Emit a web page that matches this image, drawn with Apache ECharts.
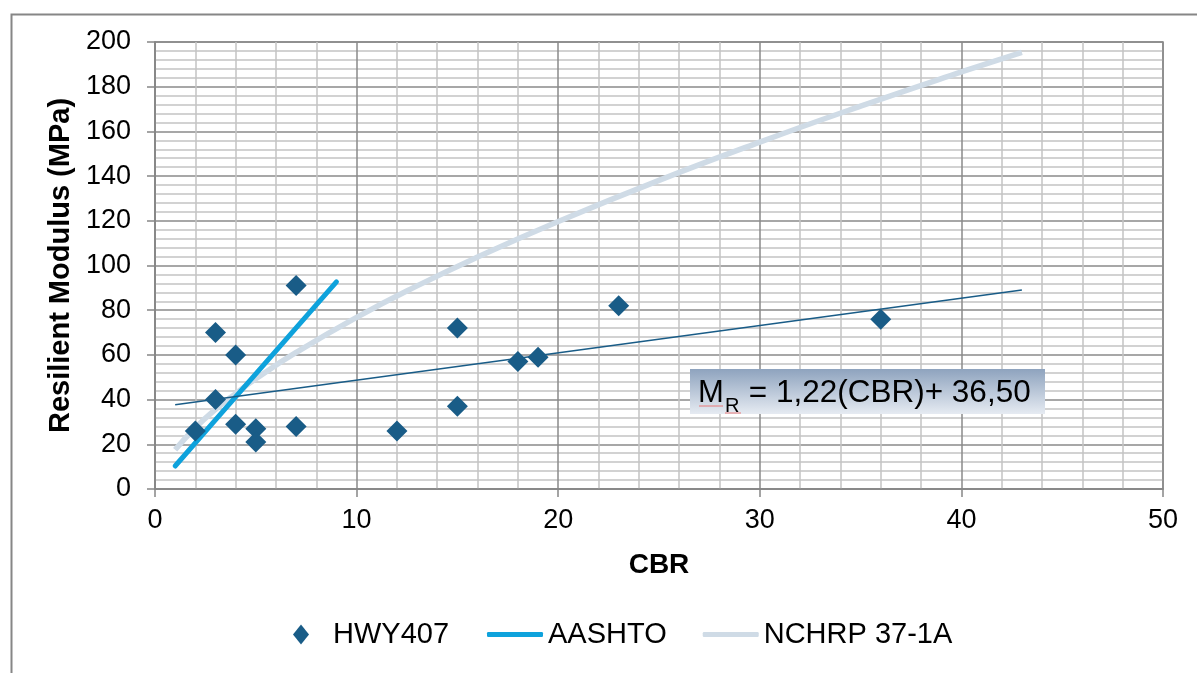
<!DOCTYPE html>
<html>
<head>
    <meta charset="utf-8"/>
    <title>Resilient Modulus vs CBR</title>
    <script src="https://cdn.jsdelivr.net/npm/echarts@6/dist/echarts.min.js"></script>
    <style>
        html, body { margin: 0; padding: 0; background: #fff; }
        #chart { width: 1197px; height: 673px; }
    </style>
</head>
<body>
<div id="chart"></div>
<script>
    // HWY407 measured points [CBR, MR]
    var hwyPoints = [
        [2, 26], [3, 70], [3, 40], [4, 60], [4, 29], [5, 27], [5, 21],
        [7, 91], [7, 28], [12, 26], [15, 72], [15, 37], [18, 57], [19, 59],
        [23, 82], [36, 76]
    ];
    // AASHTO line
    var aashtoLine = [[1, 10.3], [3, 30.9], [5, 51.5], [7, 72.1], [9, 92.7]];
    // NCHRP 37-1A curve
    var nchrpCurve = [
        [1, 17.6], [2, 27.4], [3, 35.6], [4, 42.7], [5, 49.3], [7, 61.1],
        [10, 76.8], [13, 90.9], [16, 103.8], [20, 119.7], [25, 138.1],
        [30, 155.2], [35, 171.3], [40, 186.6], [43, 195.4]
    ];
    // linear trendline of HWY407
    var trendLine = [[1, 37.7], [43, 89.0]];
    var eqMain = 'M';
    var eqSub = 'R';
    var eqRest = ' = 1,22(CBR)+ 36,50';

    var font = 'Liberation Sans, Arial, sans-serif';
    var legendText = {fontFamily: font, fontSize: 29, color: '#000'};
    var myChart = echarts.init(document.getElementById('chart'));
    var option = {
        backgroundColor: '#fff',
        animation: false,
        grid: {
            left: 155, right: 34, top: 42, bottom: 184,
            show: true, borderColor: '#868686', borderWidth: 1.5
        },
        legend: [
            {
                left: 293, top: 620, padding: 0,
                itemWidth: 16, itemHeight: 20,
                textStyle: {fontFamily: font, fontSize: 29, color: '#000', padding: [0, 0, 0, 19]},
                data: [{name: 'HWY407', icon: 'diamond'}]
            },
            {
                left: 487, top: 620, padding: 0,
                itemWidth: 56, itemHeight: 5,
                itemGap: 36,
                textStyle: legendText,
                data: [{name: 'AASHTO', icon: 'roundRect'}, {name: 'NCHRP 37-1A', icon: 'roundRect'}]
            }
        ],
        xAxis: {
            type: 'value',
            min: 0, max: 50, interval: 10,
            name: 'CBR',
            nameLocation: 'middle',
            nameGap: 62,
            nameTextStyle: {fontFamily: font, fontSize: 28, fontWeight: 'bold', color: '#000'},
            axisLine: {show: true, onZero: false, lineStyle: {color: '#868686', width: 1.5}},
            axisTick: {show: true, length: 8, lineStyle: {color: '#868686', width: 1.5}},
            axisLabel: {fontFamily: font, fontSize: 27, color: '#000', margin: 18},
            splitLine: {show: true, lineStyle: {color: '#8a8a8a', width: 1.5}},
            minorTick: {show: false, splitNumber: 5},
            minorSplitLine: {show: true, lineStyle: {color: '#c4c4c4', width: 1.5}}
        },
        yAxis: {
            type: 'value',
            min: 0, max: 200, interval: 20,
            name: 'Resilient Modulus (MPa)',
            nameLocation: 'middle',
            nameGap: 80,
            nameTextStyle: {fontFamily: font, fontSize: 29, fontWeight: 'bold', color: '#000'},
            axisLine: {show: true, lineStyle: {color: '#868686', width: 1.5}},
            axisTick: {show: true, length: 8, lineStyle: {color: '#868686', width: 1.5}},
            axisLabel: {fontFamily: font, fontSize: 27, color: '#000', margin: 24},
            splitLine: {show: true, lineStyle: {color: '#8a8a8a', width: 1.5}},
            minorTick: {show: false, splitNumber: 5},
            minorSplitLine: {show: true, lineStyle: {color: '#c4c4c4', width: 1.5}}
        },
        series: [
            {
                name: 'NCHRP 37-1A',
                type: 'line',
                data: nchrpCurve,
                smooth: true,
                symbol: 'none',
                z: 2,
                lineStyle: {color: '#cfdbe6', width: 5.5},
                itemStyle: {color: '#cfdbe6'}
            },
            {
                name: 'AASHTO',
                type: 'line',
                data: aashtoLine,
                symbol: 'none',
                z: 3,
                lineStyle: {color: '#0ea2dc', width: 5, cap: 'round'},
                itemStyle: {color: '#0ea2dc'}
            },
            {
                name: 'trend',
                type: 'line',
                data: trendLine,
                symbol: 'none',
                z: 4,
                silent: true,
                lineStyle: {color: '#195c87', width: 1.5},
                itemStyle: {color: '#195c87'}
            },
            {
                name: 'HWY407',
                type: 'scatter',
                data: hwyPoints,
                symbol: 'diamond',
                symbolSize: [21, 21],
                z: 5,
                itemStyle: {color: '#195c87', opacity: 1}
            }
        ],
        graphic: [
            {
                type: 'rect',
                left: 9, top: 12,
                z: 100,
                shape: {width: 1210, height: 700},
                style: {fill: 'none', stroke: '#868686', lineWidth: 2},
                silent: true
            },
            {
                type: 'rect',
                z: 100,
                x: 690, y: 369,
                shape: {width: 355, height: 45},
                style: {
                    fill: new echarts.graphic.LinearGradient(0, 0, 0, 1, [
                        {offset: 0, color: '#8ea3be'},
                        {offset: 1, color: '#e6ebf2'}
                    ])
                }
            },
            {
                type: 'text', z: 101, x: 698, y: 393,
                style: {text: eqMain, fontFamily: font, fontSize: 31, fill: '#000', verticalAlign: 'middle'}
            },
            {
                type: 'text', z: 101, x: 725, y: 406,
                style: {text: eqSub, fontFamily: font, fontSize: 20, fill: '#000', verticalAlign: 'middle'}
            },
            {
                type: 'text', z: 101, x: 740, y: 393,
                style: {text: eqRest, fontFamily: font, fontSize: 31.5, fill: '#000', verticalAlign: 'middle'}
            },
            {
                type: 'line', z: 101,
                shape: {x1: 699, y1: 406, x2: 723, y2: 406},
                style: {stroke: '#e87878', lineWidth: 1}
            },
            {
                type: 'line', z: 101,
                shape: {x1: 725, y1: 413, x2: 741, y2: 413},
                style: {stroke: '#e87878', lineWidth: 1}
            }
        ]
    };
    myChart.setOption(option);
</script>
</body>
</html>
